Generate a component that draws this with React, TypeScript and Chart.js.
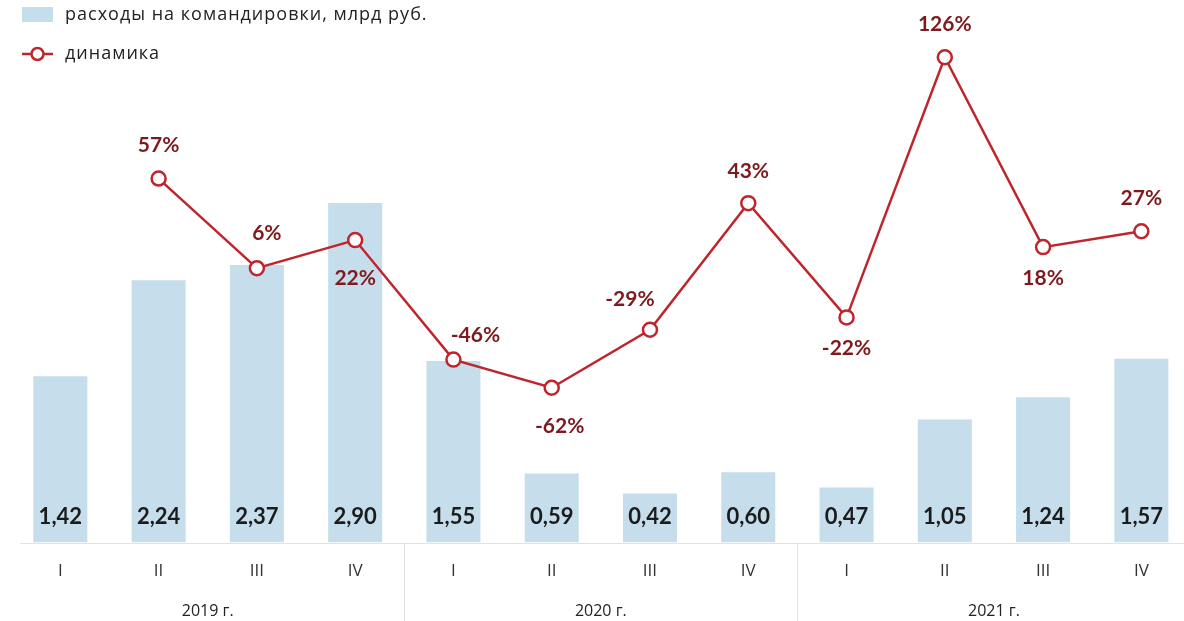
import React, { useEffect, useRef } from "react";
import { Chart, registerables } from "chart.js";

Chart.register(...registerables);

const quarters = ["I", "II", "III", "IV", "I", "II", "III", "IV", "I", "II", "III", "IV"];
const years = ["2019 г.", "2020 г.", "2021 г."];
const expenses = [1.42, 2.24, 2.37, 2.9, 1.55, 0.59, 0.42, 0.6, 0.47, 1.05, 1.24, 1.57];
const dynamics: (number | null)[] = [null, 57, 6, 22, -46, -62, -29, 43, -22, 126, 18, 27];
const seriesNames = ["расходы на командировки, млрд руб.", "динамика"];

// label placement for the "динамика" labels: [dx, dy] relative to the point
const dynLabelShift: [number, number][] = [
  [0, 0], [0, -33], [10, -35], [0, 38], [22, -24], [8, 38],
  [-20, -30], [0, -32], [0, 31], [0, -33], [0, 31], [0, -33],
];

const BAR_COLOR = "#c6deec";
const LINE_COLOR = "#bf252c";
const PCT_COLOR = "#7d1a1d";
const NUM_FONT = "Lato, 'Open Sans', sans-serif";
const TXT_FONT = "'Open Sans', 'Noto Sans', sans-serif";

const fmt = (v: number) => v.toFixed(2).replace(".", ",");

const decorPlugin = {
  id: "decor",
  afterDatasetsDraw(chart: any) {
    const ctx = chart.ctx as CanvasRenderingContext2D;
    const area = chart.chartArea;
    const x = chart.scales.x;
    ctx.save();
    // axis line and separators
    ctx.strokeStyle = "#e2e2e2";
    ctx.lineWidth = 1;
    ctx.beginPath();
    ctx.moveTo(20, Math.round(area.bottom) + 0.5);
    ctx.lineTo(chart.width, Math.round(area.bottom) + 0.5);
    ctx.stroke();
    const step = x.getPixelForValue(1) - x.getPixelForValue(0);
    for (let g = 1; g < years.length; g++) {
      const px = Math.round(x.getPixelForValue(g * 4 - 1) + step / 2) + 0.5;
      ctx.beginPath();
      ctx.moveTo(px, area.bottom);
      ctx.lineTo(px, chart.height);
      ctx.stroke();
    }
    // year labels
    ctx.fillStyle = "#222";
    ctx.font = `16px ${TXT_FONT}`;
    ctx.textAlign = "center";
    ctx.textBaseline = "middle";
    years.forEach((y, g) => {
      const cx = (x.getPixelForValue(g * 4) + x.getPixelForValue(g * 4 + 3)) / 2;
      ctx.fillText(y, cx, 611);
    });
    // bar value labels
    const barMeta = chart.getDatasetMeta(0);
    ctx.fillStyle = "#1b1b1b";
    ctx.font = `bold 22px ${NUM_FONT}`;
    barMeta.data.forEach((el: any, i: number) => {
      ctx.fillText(fmt(expenses[i]), el.x, area.bottom - 26);
    });
    // line labels
    const lineMeta = chart.getDatasetMeta(1);
    ctx.fillStyle = PCT_COLOR;
    ctx.font = `bold 21px ${NUM_FONT}`;
    lineMeta.data.forEach((el: any, i: number) => {
      const v = dynamics[i];
      if (v === null || v === undefined) return;
      const [dx, dy] = dynLabelShift[i];
      ctx.fillText(`${v}%`, el.x + dx, el.y + dy);
    });
    // legend
    ctx.fillStyle = BAR_COLOR;
    ctx.fillRect(22, 7, 31, 15);
    ctx.strokeStyle = LINE_COLOR;
    ctx.lineWidth = 2.5;
    ctx.beginPath();
    ctx.moveTo(22, 54);
    ctx.lineTo(53, 54);
    ctx.stroke();
    ctx.beginPath();
    ctx.arc(37.5, 54, 6, 0, Math.PI * 2);
    ctx.fillStyle = "#fff";
    ctx.fill();
    ctx.stroke();
    ctx.fillStyle = "#222";
    ctx.font = `18px ${TXT_FONT}`;
    (ctx as any).letterSpacing = "1px";
    ctx.textAlign = "left";
    ctx.fillText(seriesNames[0], 65, 15);
    ctx.fillText(seriesNames[1], 65, 54);
    (ctx as any).letterSpacing = "0px";
    ctx.restore();
  },
};

export default function App() {
  const ref = useRef<HTMLCanvasElement>(null);
  useEffect(() => {
    if (!ref.current) return;
    const chart = new Chart(ref.current, {
      type: "bar",
      data: {
        labels: quarters,
        datasets: [
          {
            type: "bar",
            label: seriesNames[0],
            data: expenses,
            backgroundColor: BAR_COLOR,
            borderWidth: 0,
            categoryPercentage: 1,
            barPercentage: 0.55,
            yAxisID: "y",
            order: 2,
          },
          {
            type: "line",
            label: seriesNames[1],
            data: dynamics,
            borderColor: LINE_COLOR,
            borderWidth: 2.5,
            pointRadius: 7,
            pointBorderWidth: 2.5,
            pointBackgroundColor: "#fff",
            pointBorderColor: LINE_COLOR,
            tension: 0,
            spanGaps: false,
            yAxisID: "y1",
            order: 1,
          } as any,
        ],
      },
      options: {
        responsive: false,
        animation: false,
        devicePixelRatio: 1,
        layout: { padding: { left: 11.2, right: 5.7, top: 20, bottom: 22 } },
        plugins: { legend: { display: false }, tooltip: { enabled: false } },
        scales: {
          x: {
            offset: true,
            grid: { display: false, drawTicks: false },
            border: { display: false },
            ticks: {
              color: "#333",
              font: { family: TXT_FONT, size: 17 },
              padding: 18,
              maxRotation: 0,
              autoSkip: false,
            },
          },
          y: {
            display: false,
            min: 0,
            max: 4.462,
          },
          y1: {
            display: false,
            min: -150.1,
            max: 147.2,
          },
        },
      },
      plugins: [decorPlugin],
    });
    return () => chart.destroy();
  }, []);
  return (
    <div
      style={{
        position: "fixed",
        left: 0,
        top: 0,
        width: 1184,
        height: 621,
        overflow: "hidden",
        background: "#fff",
      }}
    >
      <canvas ref={ref} width={1200} height={621} style={{ display: "block", width: 1200, height: 621 }} />
    </div>
  );
}
